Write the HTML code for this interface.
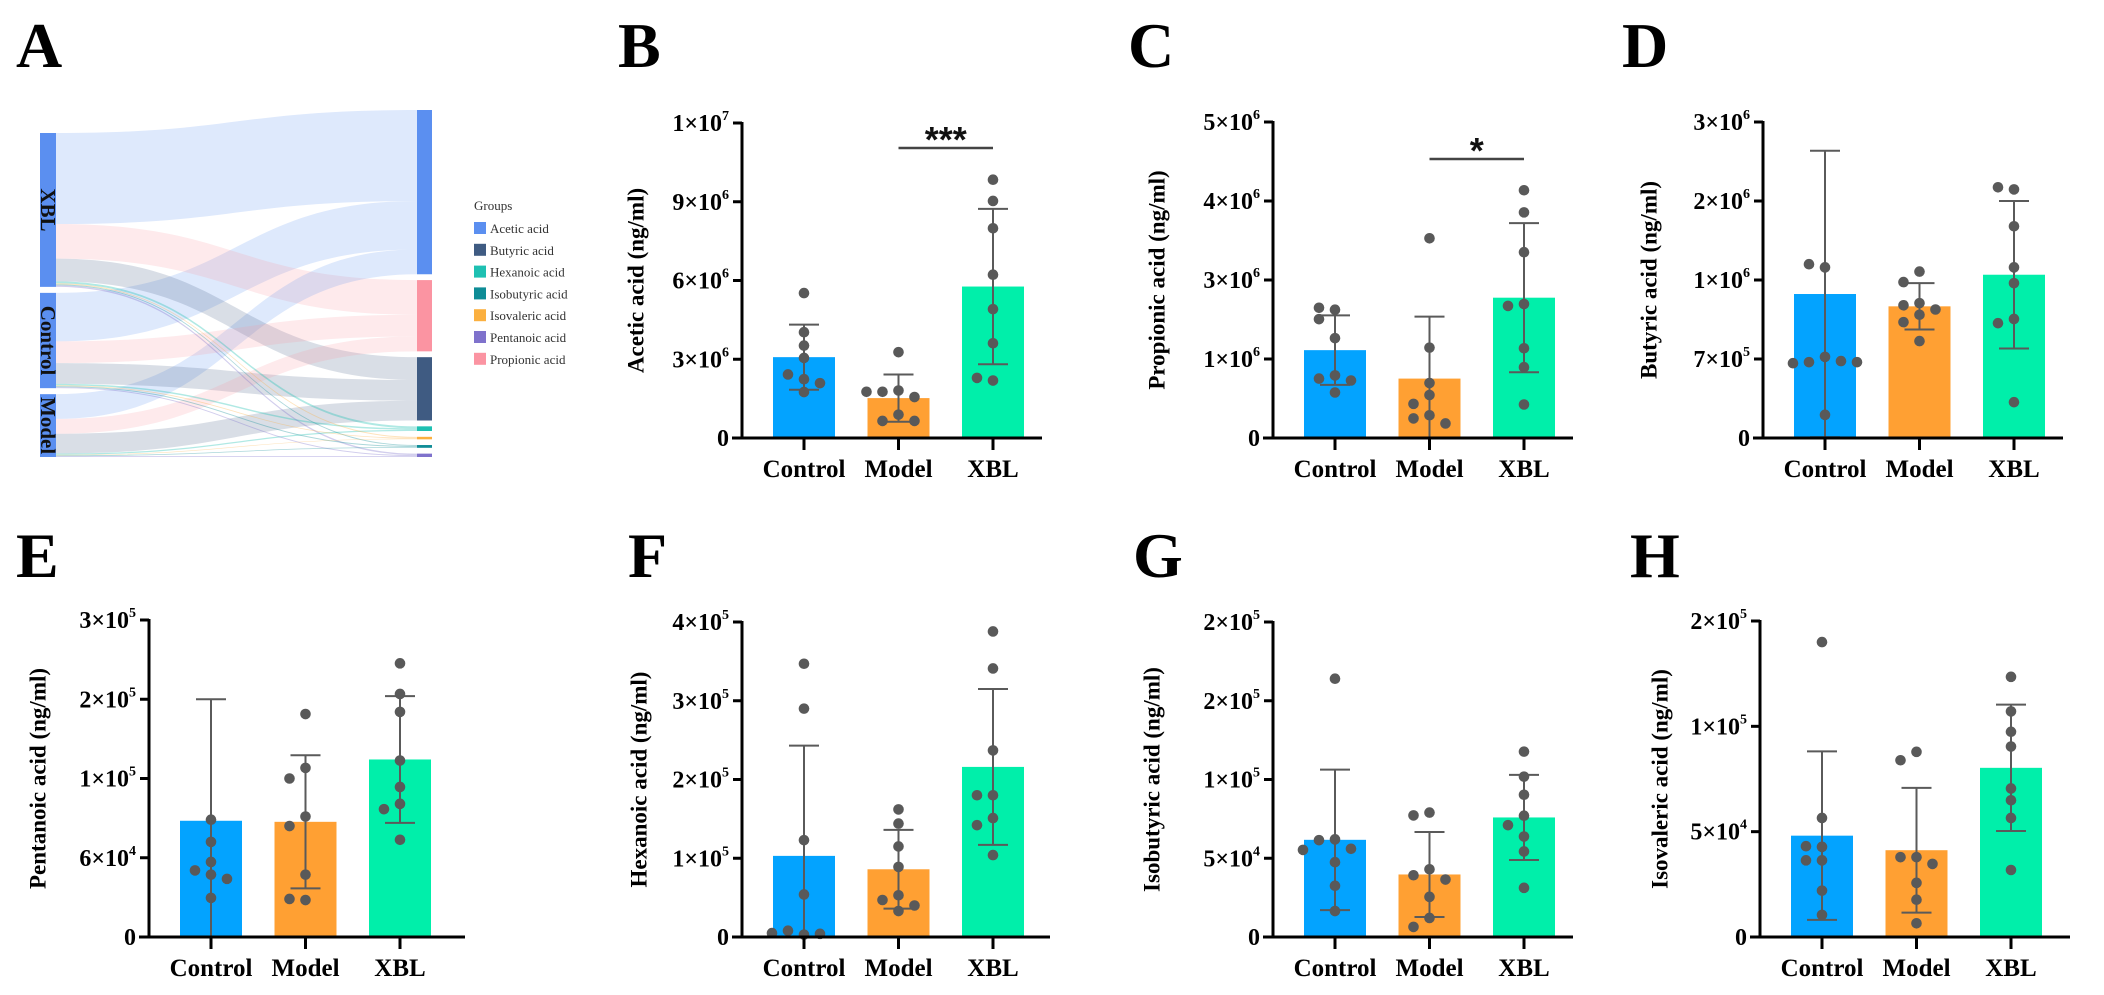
<!DOCTYPE html>
<html><head><meta charset="utf-8">
<style>
html,body{margin:0;padding:0;background:#fff;}
svg{display:block;font-family:"Liberation Serif","DejaVu Serif",serif;}
</style></head>
<body>
<svg id="fig" xmlns="http://www.w3.org/2000/svg" width="2104" height="995" viewBox="0 0 2104 995">
<text x="16" y="67" font-size="64" font-weight="bold" fill="#000">A</text>
</svg>
<script>
// ---------- Sankey data (panel A) ----------
const sankeyGroups = ["XBL","Control","Model"];
const sankeyAcids = ["Acetic acid","Propionic acid","Butyric acid","Hexanoic acid","Isovaleric acid","Isobutyric acid","Pentanoic acid"];
const flowXBL = [92,35,23,2,1,1,1.5];
const flowControl = [49,22,21,1.5,0.8,1,1];
const flowModel = [25,15,20,1.2,0.6,0.8,0.9];
const legendAcids = ["Acetic acid","Butyric acid","Hexanoic acid","Isobutyric acid","Isovaleric acid","Pentanoic acid","Propionic acid"];

// ---------- Bar chart data ----------
const groups = ["Control","Model","XBL"];

const B_means = [3.08e6,1.52e6,5.77e6];
const B_sd = [1.24e6,0.9e6,2.96e6];
const B_pts = [[5.52e6,4.03e6,3.52e6,3.05e6,2.24e6,2.42e6,2.09e6,1.75e6],[3.27e6,1.81e6,1.76e6,1.56e6,1.76e6,0.89e6,0.65e6,0.65e6],[9.84e6,9.03e6,7.99e6,6.22e6,4.91e6,3.61e6,2.19e6,2.29e6]];
const B_ticks = [0,3e6,6e6,9e6,12e6];
const B_tickLabels = [["0",""],["3×10","6"],["6×10","6"],["9×10","6"],["1×10","7"]];

const C_means = [1.39e6,0.94e6,2.22e6];
const C_sd = [0.55e6,0.98e6,1.18e6];
const C_pts = [[2.03e6,2.06e6,1.88e6,1.58e6,0.99e6,0.94e6,0.91e6,0.72e6],[3.16e6,1.43e6,0.87e6,0.68e6,0.54e6,0.36e6,0.31e6,0.23e6],[3.92e6,3.57e6,2.94e6,2.12e6,2.09e6,1.42e6,1.12e6,0.53e6]];
const C_ticks = [0,1.25e6,2.5e6,3.75e6,5e6];
const C_tickLabels = [["0",""],["1×10","6"],["3×10","6"],["4×10","6"],["5×10","6"]];

const D_means = [1.367e6,1.25e6,1.55e6];
const D_sd = [1.36e6,0.22e6,0.70e6];
const D_pts = [[1.62e6,1.65e6,0.77e6,0.72e6,0.73e6,0.71e6,0.22e6,0.72e6],[1.58e6,1.48e6,1.28e6,1.26e6,1.22e6,1.17e6,1.10e6,0.92e6],[2.36e6,2.38e6,2.01e6,1.62e6,1.47e6,1.13e6,1.09e6,0.34e6]];
const D_ticks = [0,0.75e6,1.5e6,2.25e6,3e6];
const D_tickLabels = [["0",""],["7×10","5"],["1×10","6"],["2×10","6"],["3×10","6"]];

const E_means = [1.10e5,1.09e5,1.68e5];
const E_sd = [1.15e5,0.63e5,0.60e5];
const E_pts = [[1.11e5,0.90e5,0.71e5,0.59e5,0.63e5,0.55e5,0.37e5],[2.11e5,1.60e5,1.50e5,1.14e5,1.05e5,0.59e5,0.35e5,0.36e5],[2.59e5,2.30e5,2.13e5,1.67e5,1.42e5,1.26e5,1.21e5,0.92e5]];
const E_ticks = [0,0.75e5,1.5e5,2.25e5,3e5];
const E_tickLabels = [["0",""],["6×10","4"],["1×10","5"],["2×10","5"],["3×10","5"]];

const F_means = [1.03e5,0.86e5,2.16e5];
const F_sd = [1.40e5,0.50e5,0.99e5];
const F_pts = [[3.47e5,2.90e5,1.23e5,0.54e5,0.03e5,0.08e5,0.04e5,0.05e5],[1.62e5,1.44e5,1.15e5,0.89e5,0.53e5,0.47e5,0.40e5,0.33e5],[3.88e5,3.41e5,2.37e5,1.80e5,1.80e5,1.51e5,1.42e5,1.04e5]];
const F_ticks = [0,1e5,2e5,3e5,4e5];
const F_tickLabels = [["0",""],["1×10","5"],["2×10","5"],["3×10","5"],["4×10","5"]];

const G_means = [0.617e5,0.397e5,0.759e5];
const G_sd = [0.446e5,0.27e5,0.27e5];
const G_pts = [[1.64e5,0.62e5,0.615e5,0.56e5,0.553e5,0.475e5,0.325e5,0.165e5],[0.79e5,0.772e5,0.43e5,0.392e5,0.365e5,0.255e5,0.121e5,0.064e5],[1.177e5,1.018e5,0.903e5,0.77e5,0.71e5,0.638e5,0.543e5,0.312e5]];
const G_ticks = [0,0.5e5,1e5,1.5e5,2e5];
const G_tickLabels = [["0",""],["5×10","4"],["1×10","5"],["2×10","5"],["2×10","5"]];

const H_means = [0.481e5,0.412e5,0.803e5];
const H_sd = [0.40e5,0.296e5,0.30e5];
const H_pts = [[1.40e5,0.565e5,0.428e5,0.431e5,0.364e5,0.364e5,0.22e5,0.105e5],[0.879e5,0.839e5,0.379e5,0.379e5,0.347e5,0.257e5,0.177e5,0.065e5],[1.235e5,1.071e5,0.974e5,0.904e5,0.705e5,0.649e5,0.565e5,0.318e5]];
const H_ticks = [0,0.5e5,1e5,1.5e5];
const H_tickLabels = [["0",""],["5×10","4"],["1×10","5"],["2×10","5"]];

const B_sig = ["Model","XBL","***"];
const C_sig = ["Model","XBL","*"];

const NS = "http://www.w3.org/2000/svg";
const svg = document.getElementById("fig");
function mk(tag, attrs, parent){
  const e = document.createElementNS(NS, tag);
  for (const k in attrs) e.setAttribute(k, attrs[k]);
  (parent||svg).appendChild(e);
  return e;
}

// ---------- Panel A: Sankey ----------
(function(){
  const g = mk("g", {});
  
  
  const nodeColors = {"Acetic acid":"#5b8ff0","Propionic acid":"#fb94a2","Butyric acid":"#3f5b82","Hexanoic acid":"#1ec0b2","Isovaleric acid":"#fbb040","Isobutyric acid":"#0e8c96","Pentanoic acid":"#7f72cc"};
  const flows = [flowXBL, flowControl, flowModel];
  const lx0 = 40, lx1 = 56, rx0 = 417, rx1 = 432;
  const top = 133, bottom = 457, rtop = 110;
  const leftTotals = flows.map(f => f.reduce((a,b)=>a+b,0));
  const total = leftTotals.reduce((a,b)=>a+b,0);
  const lgap = 6;
  const k = (bottom - top - lgap*(flows.length-1)) / total;
  const rightTotals = sankeyAcids.map((a,i)=>flows.reduce((s,f)=>s+f[i],0));
  const rgap = ((bottom - rtop) - total*k) / (sankeyAcids.length-1);
  const leftY = []; let y = top;
  leftTotals.forEach((t)=>{ leftY.push(y); y += t*k + lgap; });
  const rightY = []; y = rtop;
  rightTotals.forEach((t)=>{ rightY.push(y); y += t*k + rgap; });
  const rightCursor = rightY.slice();
  const paths = [];
  for (let a=0;a<sankeyAcids.length;a++){
    for (let gi=0; gi<flows.length; gi++){
      let off = 0; for (let j=0;j<a;j++) off += flows[gi][j]*k;
      const ya = leftY[gi] + off, h = flows[gi][a]*k;
      const yb = rightCursor[a]; rightCursor[a] += h;
      paths.push({a, gi, ya, yb, h});
    }
  }
  const xm = (lx1 + rx0)/2;
  paths.sort((p,q)=>q.h-p.h);
  paths.forEach(p=>{
    const acid = sankeyAcids[p.a];
    const small = p.a >= 3;
    const d = `M${lx1},${p.ya} C${xm},${p.ya} ${xm},${p.yb} ${rx0},${p.yb} L${rx0},${p.yb+p.h} C${xm},${p.yb+p.h} ${xm},${p.ya+p.h} ${lx1},${p.ya+p.h} Z`;
    const el = mk("path", {d, fill: nodeColors[acid], "fill-opacity": small?0.35:0.2}, g);
    
    
  });
  sankeyGroups.forEach((name,i)=>{
    const h = leftTotals[i]*k;
    const r = mk("rect", {x:lx0, y:leftY[i], width:lx1-lx0, height:h, fill:"#5b8ff0"}, g);
    
    
    const cy = leftY[i] + h/2;
    const t = mk("text", {x:0, y:0, transform:`translate(${lx0+1},${cy}) rotate(90)`, "text-anchor":"middle", "font-size":21, "font-weight":"bold", fill:"#111"}, g);
    t.textContent = name;
    
    
  });
  sankeyAcids.forEach((acid,i)=>{
    const r = mk("rect", {x:rx0, y:rightY[i], width:rx1-rx0, height:Math.max(rightTotals[i]*k,2.5), fill:nodeColors[acid]}, g);
    
    
  });
  const lg = mk("g", {}, g);
  
  
  const lt = mk("text", {x:474, y:210, "font-size":13, fill:"#333"}, lg);
  lt.textContent = "Groups";
  
  
  legendAcids.forEach((acid,i)=>{
    const yy = 222 + i*21.8;
    const sw = mk("rect", {x:474, y:yy, width:12, height:12, fill:nodeColors[acid]}, lg);
    
    
    const tx = mk("text", {x:490, y:yy+11, "font-size":13, fill:"#333"}, lg);
    tx.textContent = acid;
    
    
  });
})();

// ---------- bar panels ----------
const barColors = ["#03a3ff","#ffa033","#00efaa"];
function panel(cfg){
  const g = mk("g", {});
  
  
  const ax = cfg.ax, y0 = cfg.y0, yTop = cfg.yTop;
  const yMax = cfg.ticks[cfg.ticks.length-1];
  const ys = v => y0 - (Math.max(0, Math.min(v, yMax))/yMax)*(y0 - yTop);
  const offs = [62, 156.5, 251];
  const xs = i => ax + offs[i];
  const bw = 62;
  const L = mk("text", {x:cfg.lx, y:cfg.ly, "font-size":64, "font-weight":"bold", fill:"#000"}, g);
  L.textContent = cfg.letter;
  
  
  cfg.means.forEach((m,i)=>{
    const r = mk("rect", {x:xs(i)-bw/2, y:ys(m), width:bw, height:y0-ys(m), fill:barColors[i]}, g);
    
    
  });
  cfg.means.forEach((m,i)=>{
    const hi = ys(m + cfg.sd[i]), lo = ys(m - cfg.sd[i]);
    const eg = mk("g", {stroke:"#5a5a5a", "stroke-width":2}, g);
    
    
    mk("line", {x1:xs(i), x2:xs(i), y1:hi, y2:lo}, eg);
    mk("line", {x1:xs(i)-15, x2:xs(i)+15, y1:hi, y2:hi}, eg);
    mk("line", {x1:xs(i)-15, x2:xs(i)+15, y1:lo, y2:lo}, eg);
  });
  cfg.pts.forEach((arr,i)=>{
    const placed = [];
    arr.forEach(v=>{
      const py = ys(v);
      const cands = [0,-16,16,-32,32,-48,48];
      let px = xs(i);
      for (const c of cands){
        const x = xs(i)+c;
        if (placed.every(p => Math.hypot(p[0]-x, p[1]-py) >= 11)) { px = x; break; }
      }
      placed.push([px,py]);
      const c = mk("circle", {cx:px, cy:py, r:5.3, fill:"#595959"}, g);
      
      
    });
  });
  const yaxis = mk("line", {x1:ax, x2:ax, y1:yTop-1, y2:y0+1.5, stroke:"#000", "stroke-width":3}, g);
  
  
  const xaxis = mk("line", {x1:ax-10, x2:ax+cfg.xlen, y1:y0, y2:y0, stroke:"#000", "stroke-width":3}, g);
  
  
  cfg.ticks.forEach((t,j)=>{
    const ty = ys(t);
    const tk = mk("line", {x1:ax-9, x2:ax, y1:ty, y2:ty, stroke:"#000", "stroke-width":3}, g);
    
    
    const lab = cfg.tickLabels[j];
    const tx = mk("text", {x:ax-13, y:ty+8, "text-anchor":"end", "font-size":24, "font-weight":"bold", fill:"#000"}, g);
    
    
    tx.appendChild(document.createTextNode(lab[0]));
    if (lab[1]) {
      const sp = mk("tspan", {"font-size":14, dy:-11}, tx);
      sp.textContent = lab[1];
    }
  });
  groups.forEach((gname,i)=>{
    const tk = mk("line", {x1:xs(i), x2:xs(i), y1:y0, y2:y0+12, stroke:"#000", "stroke-width":3}, g);
    
    
    const tx = mk("text", {x:xs(i), y:y0+39, "text-anchor":"middle", "font-size":25, "font-weight":"bold", fill:"#000"}, g);
    tx.textContent = gname;
    
    
  });
  const yt = mk("text", {x:0, y:0, transform:`translate(${ax+cfg.tdx},${(y0+yTop)/2}) rotate(-90)`, "text-anchor":"middle", "dominant-baseline":"central", "font-size":23, "font-weight":"bold", fill:"#000"}, g);
  yt.textContent = cfg.title;
  
  
  if (cfg.sig){
    const a = groups.indexOf(cfg.sig[0]), b = groups.indexOf(cfg.sig[1]);
    const sl = mk("line", {x1:xs(a), x2:xs(b), y1:cfg.sigY, y2:cfg.sigY, stroke:"#444", "stroke-width":2.5}, g);
    
    
    const st = mk("text", {x:(xs(a)+xs(b))/2, y:cfg.sigY+4, "text-anchor":"middle", "font-size":36, "font-weight":"bold", "font-family":"Liberation Sans, sans-serif", fill:"#111"}, g);
    st.textContent = cfg.sig[2];
    
    
  }
}

panel({letter:"B", lx:618, ly:67, ax:742, y0:438, yTop:123, xlen:300, tdx:-106, title:"Acetic acid (ng/ml)", means:B_means, sd:B_sd, pts:B_pts, ticks:B_ticks, tickLabels:B_tickLabels, sig:B_sig, sigY:148});
panel({letter:"C", lx:1128, ly:67, ax:1273, y0:438, yTop:122, xlen:300, tdx:-116, title:"Propionic acid (ng/ml)", means:C_means, sd:C_sd, pts:C_pts, ticks:C_ticks, tickLabels:C_tickLabels, sig:C_sig, sigY:159});
panel({letter:"D", lx:1622, ly:67, ax:1763, y0:438, yTop:122, xlen:300, tdx:-114, title:"Butyric acid (ng/ml)", means:D_means, sd:D_sd, pts:D_pts, ticks:D_ticks, tickLabels:D_tickLabels});
panel({letter:"E", lx:16, ly:577, ax:149, y0:937, yTop:620, xlen:316, tdx:-111, title:"Pentanoic acid (ng/ml)", means:E_means, sd:E_sd, pts:E_pts, ticks:E_ticks, tickLabels:E_tickLabels});
panel({letter:"F", lx:628, ly:577, ax:742, y0:937, yTop:622, xlen:308, tdx:-103, title:"Hexanoic acid (ng/ml)", means:F_means, sd:F_sd, pts:F_pts, ticks:F_ticks, tickLabels:F_tickLabels});
panel({letter:"G", lx:1133, ly:577, ax:1273, y0:937, yTop:622, xlen:300, tdx:-121, title:"Isobutyric acid (ng/ml)", means:G_means, sd:G_sd, pts:G_pts, ticks:G_ticks, tickLabels:G_tickLabels});
panel({letter:"H", lx:1630, ly:577, ax:1760, y0:937, yTop:621, xlen:310, tdx:-100, title:"Isovaleric acid (ng/ml)", means:H_means, sd:H_sd, pts:H_pts, ticks:H_ticks, tickLabels:H_tickLabels});
</script>
</body></html>
